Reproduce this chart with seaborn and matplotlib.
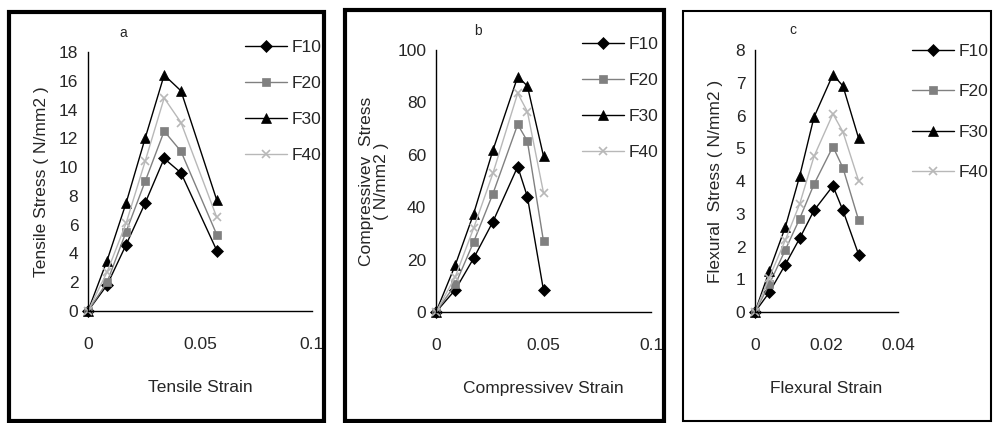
import matplotlib
matplotlib.use("Agg")
import matplotlib.pyplot as plt
import seaborn as sns
import pandas as pd
from matplotlib.patches import Rectangle

series = ["F10", "F20", "F30", "F40"]

# Panel a: tensile
tens_strain = [0, 0.0085, 0.017, 0.0255, 0.034, 0.0415, 0.0575]
tens_F10 = [0, 1.8, 4.6, 7.5, 10.6, 9.6, 4.2]
tens_F20 = [0, 2.0, 5.5, 9.0, 12.5, 11.1, 5.3]
tens_F30 = [0, 3.5, 7.5, 12.0, 16.4, 15.3, 7.7]
tens_F40 = [0, 2.7, 6.1, 10.4, 14.8, 13.1, 6.5]

# Panel b: compressive
comp_strain = [0, 0.009, 0.0175, 0.0265, 0.038, 0.0425, 0.05]
comp_F10 = [0, 8.5, 20.5, 34.5, 55.5, 44.0, 8.3]
comp_F20 = [0, 10.5, 26.7, 45.2, 71.6, 65.2, 27.0]
comp_F30 = [0, 18.0, 37.5, 61.8, 89.8, 86.3, 59.5]
comp_F40 = [0, 13.5, 32.0, 53.0, 83.5, 76.5, 45.5]

# Panel c: flexural
flex_strain = [0, 0.004, 0.0085, 0.0125, 0.0165, 0.0218, 0.0246, 0.029]
flex_F10 = [0, 0.6, 1.45, 2.25, 3.1, 3.85, 3.1, 1.75]
flex_F20 = [0, 0.85, 1.9, 2.85, 3.9, 5.05, 4.4, 2.8]
flex_F30 = [0, 1.25, 2.6, 4.15, 5.95, 7.25, 6.9, 5.3]
flex_F40 = [0, 1.05, 2.2, 3.3, 4.75, 6.05, 5.5, 4.0]

panel_letters = ["a", "b", "c"]
xlabels = ["Tensile Strain", "Compressivev Strain", "Flexural Strain"]
ylabels = ["Tensile Stress ( N/mm2 )", "Compressivev  Stress\n( N/mm2 )", "Flexural  Stress ( N/mm2 )"]
xticks_list = [[0, 0.05, 0.1], [0, 0.05, 0.1], [0, 0.02, 0.04]]
xticklabels_list = [["0", "0.05", "0.1"], ["0", "0.05", "0.1"], ["0", "0.02", "0.04"]]
yticks_list = [list(range(0, 19, 2)), list(range(0, 101, 20)), list(range(0, 9, 1))]

sns.set_style("white")
plt.rcParams["font.family"] = ["Liberation Sans Narrow", "Liberation Sans", "DejaVu Sans"]
FS = 12.5

colors = {"F10": "#000000", "F20": "#808080", "F30": "#000000", "F40": "#b8b8b8"}
markers = {"F10": "D", "F20": "s", "F30": "^", "F40": "x"}
msizes = {"F10": 6, "F20": 6, "F30": 7, "F40": 6}

def long_df(strain, vals):
    rows = []
    for s, v in zip(series, vals):
        for x, y in zip(strain, v):
            rows.append({"strain": x, "stress": y, "series": s})
    return pd.DataFrame(rows)

data = [
    long_df(tens_strain, [tens_F10, tens_F20, tens_F30, tens_F40]),
    long_df(comp_strain, [comp_F10, comp_F20, comp_F30, comp_F40]),
    long_df(flex_strain, [flex_F10, flex_F20, flex_F30, flex_F40]),
]

W, H = 993, 423
fig = plt.figure(figsize=(W / 100, H / 100), dpi=100)

def fx(px):
    return px / W

def fy(py):
    return 1 - py / H

# axes rectangles in pixels: (x0, x_right, y_bottom, y_top)
ax_px = [(88, 312, 311, 52), (436, 651, 312, 50), (755, 898, 312, 50)]
xlims = [(0, 0.1), (0, 0.1), (0, 0.04)]
ylims = [(0, 18), (0, 100), (0, 8)]
letter_pos = [(123, 33), (478, 31), (793, 30)]
legend_pos = [(245, 40), (582, 37), (912, 44)]
legend_spacing = [1.2, 1.2, 1.45]
ylabel_pad = [7, 6, 9]

# frames
frames = [(9, 12, 324, 421, 3.0), (345, 10, 664, 421, 3.0), (683, 11, 991, 421, 1.5)]
for (l, t, r, b, lw) in frames:
    fig.patches.append(Rectangle((fx(l), fy(b)), fx(r) - fx(l), fy(t) - fy(b),
                                 transform=fig.transFigure, fill=False,
                                 edgecolor="black", linewidth=lw, zorder=0))

for i in range(3):
    x0, x1, yb, yt = ax_px[i]
    ax = fig.add_axes([fx(x0), fy(yb), fx(x1) - fx(x0), fy(yt) - fy(yb)])
    ax.patch.set_alpha(0)
    df = data[i]
    for s in series:
        sub = df[df["series"] == s]
        sns.lineplot(data=sub, x="strain", y="stress", ax=ax, color=colors[s],
                     marker=markers[s], markersize=msizes[s], linewidth=1.0,
                     markeredgecolor=colors[s], markerfacecolor=colors[s],
                     markeredgewidth=1.2 if s == "F40" else 0.5,
                     label=s, sort=False, clip_on=False)
    ax.set_xlim(*xlims[i])
    ax.set_ylim(*ylims[i])
    ax.set_xticks(xticks_list[i])
    ax.set_xticklabels(xticklabels_list[i])
    ax.set_yticks(yticks_list[i])
    ax.set_yticklabels([str(v) for v in yticks_list[i]])
    for sp in ["top", "right"]:
        ax.spines[sp].set_visible(False)
    for sp in ["left", "bottom"]:
        ax.spines[sp].set_linewidth(1.0)
        ax.spines[sp].set_color("black")
    ax.tick_params(axis="x", direction="out", length=4, width=1, pad=15, labelsize=FS)
    ax.tick_params(axis="y", direction="out", length=4, width=1, pad=3, labelsize=FS)
    ax.set_xlabel(xlabels[i], fontsize=FS, labelpad=20)
    ax.set_ylabel(ylabels[i], fontsize=FS, labelpad=ylabel_pad[i], linespacing=1.0)
    ax.grid(False)
    lx, ly = letter_pos[i]
    fig.text(fx(lx), fy(ly), panel_letters[i], ha="center", va="center", fontsize=10)
    h, lab = ax.get_legend_handles_labels()
    lp = legend_pos[i]
    ax.legend(h, lab, loc="upper left", bbox_to_anchor=(fx(lp[0]), fy(lp[1])),
              bbox_transform=fig.transFigure, frameon=False, fontsize=FS,
              handlelength=2.4, handletextpad=0.3, labelspacing=legend_spacing[i],
              borderpad=0, borderaxespad=0)

fig.savefig("out.png", dpi=100)
